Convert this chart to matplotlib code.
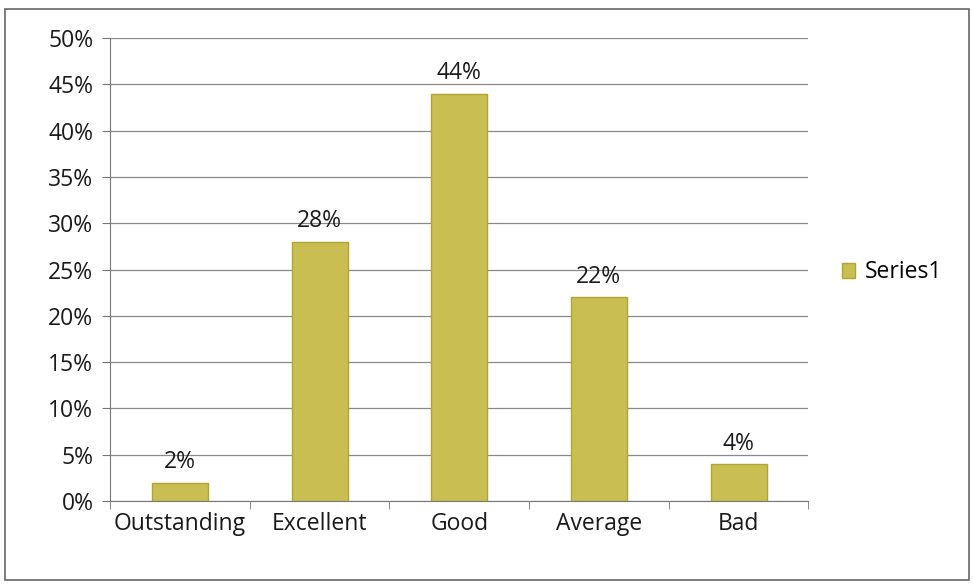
import numpy as np
import matplotlib.pyplot as plt
from matplotlib.patches import Rectangle

# dane
kategorie = ['Outstanding', 'Excellent', 'Good', 'Average', 'Bad']
wartosci = [2, 28, 44, 22, 4]
etykiety_y = ['0%', '5%', '10%', '15%', '20%', '25%', '30%', '35%', '40%', '45%', '50%']

plt.rcParams['font.family'] = ['Open Sans', 'DejaVu Sans']
rozmiar = 16.5

fig = plt.figure(figsize=(9.74, 5.86), dpi=100)
ax = fig.add_axes([0.113, 0.145, 0.717, 0.79])

x = np.arange(len(kategorie))
slupki = ax.bar(x, wartosci, width=0.4, color='#c9be52', edgecolor='#b0a530',
                linewidth=1, label='Series1', zorder=3)

for xi, v in zip(x, wartosci):
    ax.text(xi, v + 0.9, f'{v}%', ha='center', va='bottom', fontsize=rozmiar, color='#1a1a1a')

ax.set_xlim(-0.5, 4.5)
ax.set_ylim(0, 50)
ax.set_yticks(np.arange(0, 51, 5))
ax.set_yticklabels(etykiety_y, fontsize=rozmiar, color='#1a1a1a')
ax.yaxis.grid(True, color='#8a8a8a', linewidth=0.9, zorder=0)

ax.set_xticks(x)
ax.set_xticklabels(kategorie, fontsize=rozmiar, color='#1a1a1a')
ax.set_xticks(np.arange(-0.5, 5, 1), minor=True)
ax.tick_params(axis='x', which='major', length=0, pad=8)
ax.tick_params(axis='x', which='minor', length=6, color='#777777', direction='out')
ax.tick_params(axis='y', length=6, color='#777777', pad=6)

for s in ['top', 'right']:
    ax.spines[s].set_visible(False)
ax.spines['left'].set_color('#777777')
ax.spines['bottom'].set_color('#777777')

fig.legend(handles=[slupki], labels=['Series1'], loc='center left',
           bbox_to_anchor=(0.843, 0.535), frameon=False, fontsize=rozmiar,
           handlelength=0.6, handleheight=0.6, handletextpad=0.4)

# ramka wokol wykresu
fig.patches.append(Rectangle((0.005, 0.01), 0.99, 0.975, transform=fig.transFigure,
                             fill=False, edgecolor='#666666', linewidth=1.2))

plt.savefig('out.png', dpi=100)
